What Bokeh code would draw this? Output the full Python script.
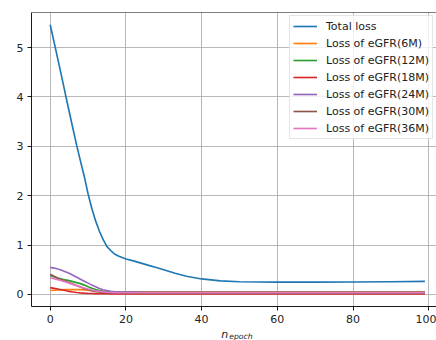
from bokeh.plotting import figure
from bokeh.layouts import column
from bokeh.models import Range1d, FixedTicker, Legend, LegendItem, Span
from bokeh.core.properties import value
from bokeh.embed import file_html
from bokeh.resources import INLINE

epochs = [0, 1, 2, 3, 4, 5, 6, 7, 8, 9, 10, 11, 12, 13, 14, 15, 16, 17, 18, 19, 20,
          22, 24, 26, 28, 30, 33, 36, 40, 45, 50, 55, 60, 70, 80, 90, 99]

total_loss = [5.46, 5.12, 4.77, 4.42, 4.06, 3.71, 3.36, 3.02, 2.70, 2.39, 2.04,
              1.74, 1.49, 1.28, 1.11, 0.97, 0.89, 0.82, 0.78, 0.75, 0.72,
              0.68, 0.635, 0.59, 0.545, 0.50, 0.43, 0.37, 0.315, 0.275, 0.258,
              0.252, 0.25, 0.25, 0.253, 0.258, 0.265]

loss_6m = [0.08, 0.085, 0.09, 0.095, 0.10, 0.10, 0.10, 0.10, 0.098, 0.093, 0.085,
           0.075, 0.065, 0.06, 0.057, 0.055, 0.055, 0.055, 0.055, 0.055, 0.055,
           0.055, 0.055, 0.055, 0.055, 0.055, 0.055, 0.055, 0.055, 0.055, 0.055,
           0.055, 0.055, 0.055, 0.055, 0.055, 0.055]

loss_12m = [0.385, 0.36, 0.335, 0.315, 0.295, 0.28, 0.26, 0.24, 0.22, 0.19, 0.155,
            0.125, 0.10, 0.08, 0.066, 0.057, 0.051, 0.047, 0.045, 0.043, 0.042,
            0.041, 0.041, 0.04, 0.04, 0.04, 0.04, 0.04, 0.04, 0.04, 0.04,
            0.04, 0.04, 0.04, 0.04, 0.04, 0.04]

loss_18m = [0.14, 0.125, 0.11, 0.095, 0.08, 0.062, 0.05, 0.04, 0.032, 0.027, 0.023,
            0.02, 0.018, 0.016, 0.015, 0.015, 0.014, 0.014, 0.014, 0.013, 0.013,
            0.013, 0.013, 0.013, 0.012, 0.012, 0.012, 0.012, 0.012, 0.012, 0.012,
            0.012, 0.012, 0.012, 0.012, 0.012, 0.012]

loss_24m = [0.55, 0.535, 0.515, 0.49, 0.46, 0.43, 0.39, 0.35, 0.31, 0.27, 0.23,
            0.19, 0.155, 0.12, 0.095, 0.078, 0.066, 0.058, 0.053, 0.05, 0.048,
            0.047, 0.046, 0.046, 0.045, 0.045, 0.045, 0.045, 0.044, 0.044, 0.044,
            0.044, 0.043, 0.043, 0.043, 0.043, 0.043]

loss_30m = [0.41, 0.37, 0.33, 0.30, 0.27, 0.24, 0.21, 0.18, 0.15, 0.12, 0.095,
            0.075, 0.06, 0.05, 0.04, 0.035, 0.032, 0.03, 0.03, 0.029, 0.028,
            0.028, 0.027, 0.027, 0.027, 0.026, 0.026, 0.026, 0.026, 0.025, 0.025,
            0.025, 0.025, 0.025, 0.025, 0.025, 0.025]

loss_36m = [0.34, 0.32, 0.30, 0.28, 0.255, 0.23, 0.205, 0.18, 0.155, 0.13, 0.11,
            0.09, 0.075, 0.062, 0.052, 0.045, 0.04, 0.038, 0.036, 0.036, 0.035,
            0.035, 0.035, 0.035, 0.035, 0.035, 0.035, 0.035, 0.035, 0.035, 0.035,
            0.035, 0.035, 0.035, 0.035, 0.035, 0.035]

series_labels = ["Total loss", "Loss of eGFR(6M)", "Loss of eGFR(12M)",
                 "Loss of eGFR(18M)", "Loss of eGFR(24M)", "Loss of eGFR(30M)",
                 "Loss of eGFR(36M)"]
series_values = [total_loss, loss_6m, loss_12m, loss_18m, loss_24m, loss_30m, loss_36m]
colors = ["#1f77b4", "#ff7f0e", "#2ca02c", "#d62728", "#9467bd", "#8c564b", "#e377c2"]

x_ticks = [0, 20, 40, 60, 80, 100]
y_ticks = [0, 1, 2, 3, 4, 5]
x_label_main = "n"
x_label_sub = "epoch"

FONT = "DejaVu Sans"
Y0, Y1 = -0.243, 5.709
xr = Range1d(-4.94, 102.06)

p = figure(width=436, height=325, output_backend="svg", toolbar_location=None,
           x_range=xr, y_range=Range1d(Y0, Y1),
           min_border_left=31, min_border_right=0, min_border_top=12,
           min_border_bottom=19)
p.outline_line_color = None
p.background_fill_color = "white"
p.border_fill_color = "white"

items = []
for lab, vals, col in zip(series_labels, series_values, colors):
    r = p.line(epochs, vals, line_color=col, line_width=1.65)
    items.append(LegendItem(label=lab, renderers=[r]))

for ax, ticks in ((p.xaxis[0], x_ticks), (p.yaxis[0], y_ticks)):
    ax.ticker = FixedTicker(ticks=ticks)
    ax.minor_tick_line_color = None
    ax.major_tick_in = 0
    ax.major_tick_out = 4
    ax.major_tick_line_color = "black"
    ax.major_tick_line_width = 0.9
    ax.axis_line_color = "black"
    ax.axis_line_width = 0.9
    ax.major_label_text_font = FONT
    ax.major_label_text_font_size = "11px"
    ax.major_label_text_color = "#222222"
    ax.major_label_standoff = 4

p.grid.grid_line_color = "#b0b0b0"
p.grid.grid_line_width = 0.9
p.xgrid.ticker = FixedTicker(ticks=x_ticks)
p.ygrid.ticker = FixedTicker(ticks=y_ticks)

p.add_layout(Span(location=Y1, dimension="width", line_color="black", line_width=1.2))

legend = Legend(items=items, location=(258, 167))
legend.label_text_font = FONT
legend.label_text_font_size = "11px"
legend.label_text_color = "#222222"
legend.glyph_width = 24
legend.glyph_height = 14
legend.label_height = 14
legend.label_standoff = 9
legend.spacing = 3
legend.padding = 3
legend.margin = 0
legend.border_line_color = "#cccccc"
legend.border_line_width = 1
legend.background_fill_alpha = 0.8
p.add_layout(legend)

# strip below holding the x-axis label n_epoch (mathtext style)
q = figure(width=436, height=15, output_backend="svg", toolbar_location=None,
           x_range=xr, y_range=Range1d(0, 15),
           min_border_left=31, min_border_right=0, min_border_top=0,
           min_border_bottom=0)
q.axis.visible = False
q.grid.visible = False
q.outline_line_color = None
q.border_fill_color = "white"
q.background_fill_color = "white"
q.text(x=[45.2], y=[6.0], text=[x_label_main], text_font=value(FONT),
       text_font_style="italic", text_font_size="11px", text_color="#222222",
       text_baseline="alphabetic")
q.text(x=[47.3], y=[4.2], text=[x_label_sub], text_font=value(FONT),
       text_font_style="italic", text_font_size="7.7px", text_color="#222222",
       text_baseline="alphabetic")

layout = column(p, q, spacing=0)
open("out.html", "w").write(file_html(layout, INLINE))
